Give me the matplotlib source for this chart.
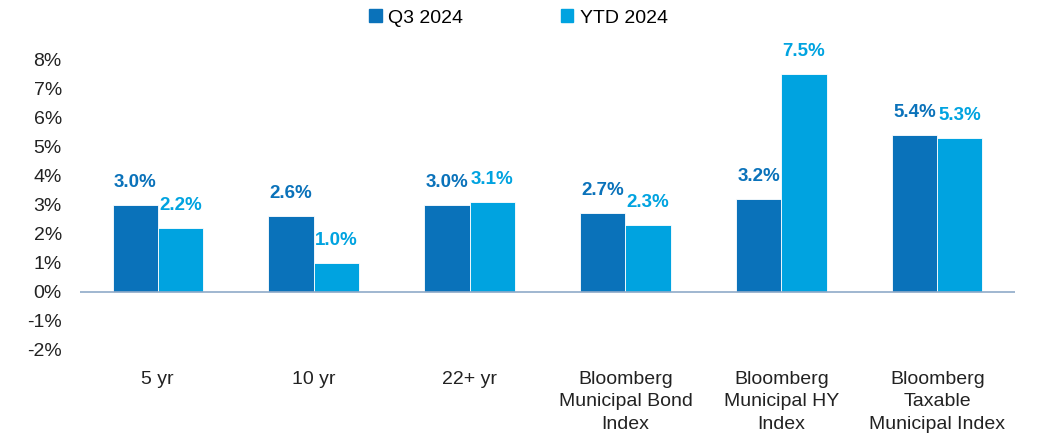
import matplotlib
matplotlib.use("Agg")
import matplotlib.pyplot as plt
import matplotlib.patches as patches
import numpy as np

plt.rcParams["font.family"] = ["Liberation Sans", "DejaVu Sans"]

categories = ["5 yr", "10 yr", "22+ yr", "Bloomberg\nMunicipal Bond\nIndex",
              "Bloomberg\nMunicipal HY\nIndex", "Bloomberg\nTaxable\nMunicipal Index"]
q3_2024 = [3.0, 2.6, 3.0, 2.7, 3.2, 5.4]
ytd_2024 = [2.2, 1.0, 3.1, 2.3, 7.5, 5.3]
series_names = ["Q3 2024", "YTD 2024"]

c_q3 = "#0A72BA"
c_ytd = "#00A3E0"

fig = plt.figure(figsize=(10.37, 4.38), dpi=100)
ax = fig.add_axes([0.077, 0.201, 0.902, 0.664])

x = np.arange(len(categories))
w = 0.29
b1 = ax.bar(x - w / 2, q3_2024, w, color=c_q3, edgecolor="white", linewidth=0.6, zorder=2)
b2 = ax.bar(x + w / 2, ytd_2024, w, color=c_ytd, edgecolor="white", linewidth=0.6, zorder=2)

# Подписи значений над столбцами
for bars, vals, col in [(b1, q3_2024, c_q3), (b2, ytd_2024, c_ytd)]:
    for bar, v in zip(bars, vals):
        ax.annotate(f"{v:.1f}%", (bar.get_x() + bar.get_width() / 2, v),
                    xytext=(0, 10), textcoords="offset points",
                    ha="center", va="bottom", fontsize=13.5,
                    fontweight="bold", color=col)

ax.axhline(0, color="#8FAAC8", linewidth=1.2, zorder=3)

ax.set_xlim(-0.5, len(categories) - 0.5)
ax.set_ylim(-2, 8)
ax.set_yticks(range(-2, 9))
ax.set_yticklabels([f"{t}%" for t in range(-2, 9)], fontsize=14, color="#222222")
ax.set_xticks(x)
ax.set_xticklabels(categories, fontsize=14, color="#222222", linespacing=1.42)
ax.tick_params(axis="both", length=0)
ax.tick_params(axis="x", pad=15)
ax.tick_params(axis="y", pad=13)
for s in ax.spines.values():
    s.set_visible(False)

handles = [patches.Patch(color=c_q3), patches.Patch(color=c_ytd)]
fig.legend(handles, series_names, loc="center", bbox_to_anchor=(0.5, 0.959),
           ncol=2, frameon=False, fontsize=14, handlelength=0.65,
           handleheight=0.65, handletextpad=0.35, columnspacing=5.0)

fig.savefig("out.png", dpi=100)
plt.close(fig)
